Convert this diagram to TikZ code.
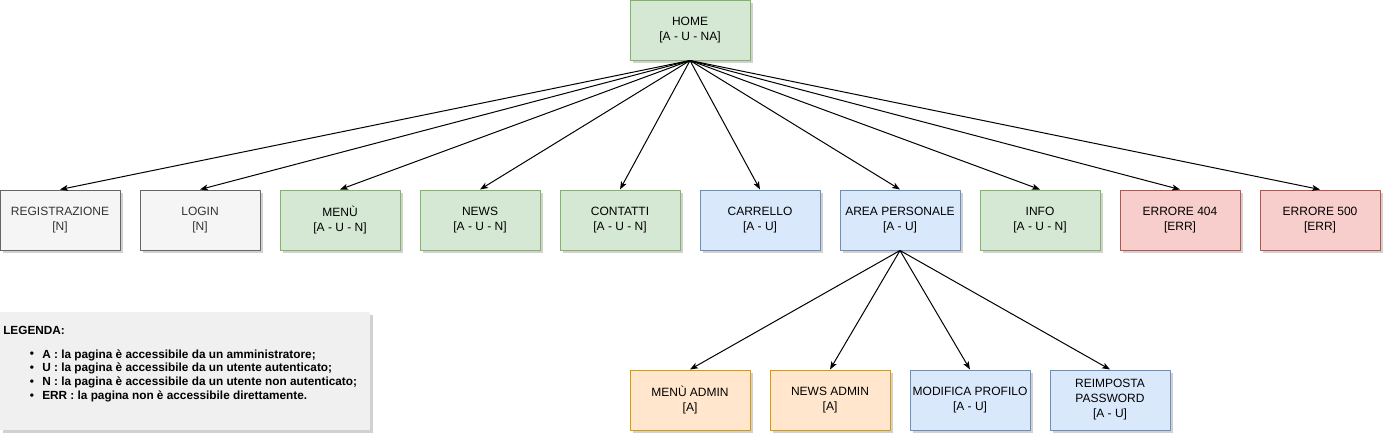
\documentclass[tikz,border=0pt]{standalone}
\usepackage{fontspec}
\setmainfont{Liberation Sans}
\usetikzlibrary{arrows.meta,shadows}

\definecolor{grayfill}{HTML}{F5F5F5}
\definecolor{graydraw}{HTML}{666666}
\definecolor{graytext}{HTML}{333333}
\definecolor{greenfill}{HTML}{D5E8D4}
\definecolor{greendraw}{HTML}{82B366}
\definecolor{bluefill}{HTML}{DAE8FC}
\definecolor{bluedraw}{HTML}{6C8EBF}
\definecolor{redfill}{HTML}{F8CECC}
\definecolor{reddraw}{HTML}{B85450}
\definecolor{orangefill}{HTML}{FFE6CC}
\definecolor{orangedraw}{HTML}{D79B00}
\definecolor{legendfill}{HTML}{F0F0F0}

\begin{document}
\begin{tikzpicture}[x=0.75pt,y=-0.75pt,line join=round,
  shade/.style={drop shadow={shadow xshift=2pt,shadow yshift=-2pt,
    fill=black!40,opacity=.45}},
  page/.style={rectangle,draw,line width=.75pt,shade,
    minimum width=90pt,minimum height=45pt,inner sep=1pt,align=center,
    font=\fontsize{9}{11.25}\selectfont},
  guest/.style={page,fill=grayfill,draw=graydraw,text=graytext},
  open/.style={page,fill=greenfill,draw=greendraw},
  user/.style={page,fill=bluefill,draw=bluedraw},
  fail/.style={page,fill=redfill,draw=reddraw},
  admin/.style={page,fill=orangefill,draw=orangedraw},
  link/.style={-{Stealth[length=6pt,width=4.5pt,inset=1.5pt]},line width=.75pt},
  legtext/.style={font=\fontsize{8.85}{10}\selectfont\bfseries,inner sep=0pt}]

\useasboundingbox (0,0) rectangle (1392,447);

% Root page.
\node[open] (home) at (690,30) {HOME\\{[}A - U - NA{]}};

% First level of pages.
\node[guest] (reg)     at (60,220)   {REGISTRAZIONE\\{[}N{]}};
\node[guest] (login)   at (200,220)  {LOGIN\\{[}N{]}};
\node[open]  (menu)    at (340,220)  {MENÙ\\{[}A - U - N{]}};
\node[open]  (news)    at (480,220)  {NEWS\\{[}A - U - N{]}};
\node[open]  (contatti) at (620,220) {CONTATTI\\{[}A - U - N{]}};
\node[user]  (carrello) at (760,220) {CARRELLO\\{[}A - U{]}};
\node[user]  (area)    at (900,220)  {AREA PERSONALE\\{[}A - U{]}};
\node[open]  (info)    at (1040,220) {INFO\\{[}A - U - N{]}};
\node[fail]  (err404)  at (1180,220) {ERRORE 404\\{[}ERR{]}};
\node[fail]  (err500)  at (1320,220) {ERRORE 500\\{[}ERR{]}};

% Pages inside the personal area.
\node[admin] (menuadmin) at (690,400)  {MENÙ ADMIN\\{[}A{]}};
\node[admin] (newsadmin) at (830,400)  {NEWS ADMIN\\{[}A{]}};
\node[user]  (profilo)   at (970,400)  {MODIFICA PROFILO\\{[}A - U{]}};
\node[user]  (password)  at (1110,400) {REIMPOSTA\\PASSWORD\\{[}A - U{]}};

\foreach \t in {reg,login,menu,news,contatti,carrello,area,info,err404,err500}
  \draw[link] (home.south) -- (\t.north);
\foreach \t in {menuadmin,newsadmin,profilo,password}
  \draw[link] (area.south) -- (\t.north);

% Legend.
\node[rectangle,fill=legendfill,shade,minimum width=277.5pt,minimum height=88.5pt,
  inner sep=0pt] (legenda) at (185,371) {};
\node[legtext,anchor=west] (legtitle) at (3,330) {LEGENDA:};
\foreach \k/\t [count=\i] in {A/la pagina è accessibile da un amministratore;,
    U/la pagina è accessibile da un utente autenticato;,
    N/la pagina è accessibile da un utente non autenticato;,
    ERR/la pagina non è accessibile direttamente.}
{
  \pgfmathsetmacro{\yy}{341.5+\i*13.7}
  \node[legtext] (bullet\i) at (32,\yy) {\textbullet};
  \node[legtext,anchor=west] (item\i) at (42,\yy) {\k\ : \t};
}
\end{tikzpicture}
\end{document}
